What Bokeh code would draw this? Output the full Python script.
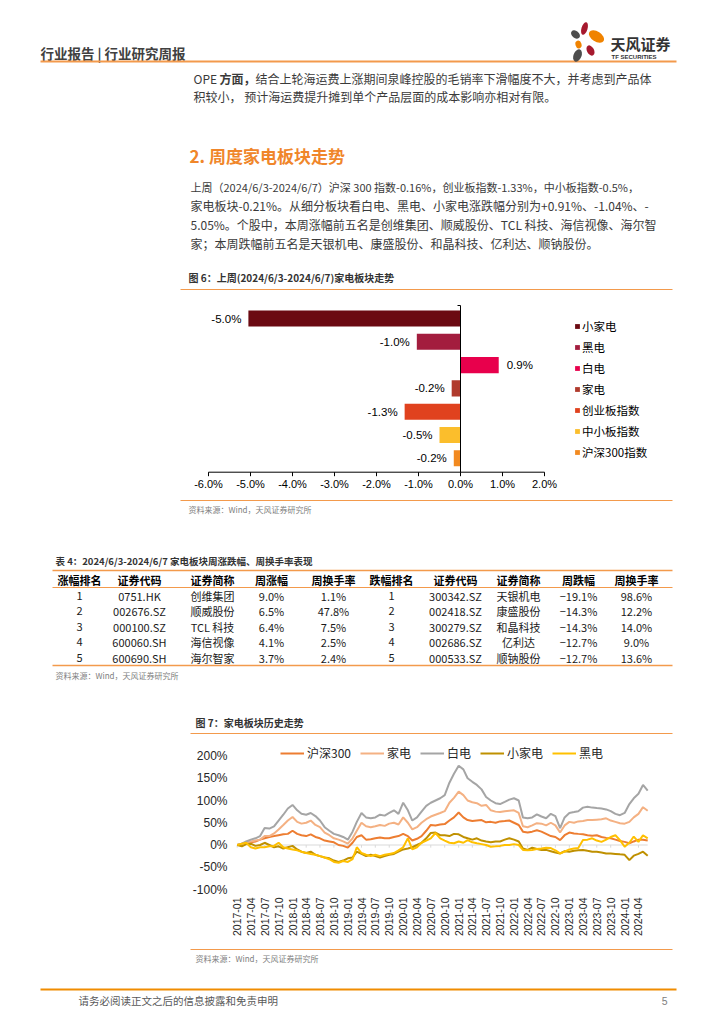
import math
import pandas as pd
from bokeh.plotting import figure
from bokeh.models import (Range1d, FixedTicker, Legend, LegendItem, DatetimeTickFormatter,
                          ColumnDataSource)
from bokeh.layouts import column
from bokeh.core.properties import value
from bokeh.embed import file_html
from bokeh.resources import INLINE

# ---------------- data ----------------
BAR_CATS = ["小家电", "黑电", "白电", "家电", "创业板指数", "中小板指数", "沪深300指数"]
BAR_VALS = [-5.05, -1.04, 0.91, -0.21, -1.33, -0.50, -0.16]
BAR_COLORS = ["#6B0A12", "#A31D3E", "#E8004C", "#B03A2C", "#E0421E", "#FBBE2C", "#F28A20"]
BAR_TICKS = [-6, -5, -4, -3, -2, -1, 0, 1, 2]

TBL_HEAD = ["涨幅排名", "证券代码", "证券简称", "周涨幅", "周换手率",
            "跌幅排名", "证券代码", "证券简称", "周跌幅", "周换手率"]
UP_RANK = ["1", "2", "3", "4", "5"]
UP_CODE = ["0751.HK", "002676.SZ", "000100.SZ", "600060.SH", "600690.SH"]
UP_NAME = ["创维集团", "顺威股份", "TCL 科技", "海信视像", "海尔智家"]
UP_CHG = ["9.0%", "6.5%", "6.4%", "4.1%", "3.7%"]
UP_TURN = ["1.1%", "47.8%", "7.5%", "2.5%", "2.4%"]
DN_RANK = ["1", "2", "3", "4", "5"]
DN_CODE = ["300342.SZ", "002418.SZ", "300279.SZ", "002686.SZ", "000533.SZ"]
DN_NAME = ["天银机电", "康盛股份", "和晶科技", "亿利达", "顺钠股份"]
DN_CHG = ["−19.1%", "−14.3%", "−14.3%", "−12.7%", "−12.7%"]
DN_TURN = ["98.6%", "12.2%", "14.0%", "9.0%", "13.6%"]

MONTHS = pd.date_range("2017-01-01", periods=90, freq="MS")
QUARTER_TICKS = pd.date_range("2017-01-01", "2024-04-01", freq="QS")
Y_TICKS = [-100, -50, 0, 50, 100, 150, 200]

HS300 = [0, 3, 5, 6, 8, 12, 15, 18, 20, 22, 24, 25, 32, 25, 22, 20, 24, 18, 15, 10,
         8, 6, 0, -2, -6, 5, 18, 22, 12, 13, 15, 17, 15, 15, 18, 20, 25, 20, 10, 14,
         20, 32, 45, 44, 46, 47, 55, 62, 73, 62, 56, 54, 55, 56, 51, 52, 50, 53, 54, 55,
         50, 45, 30, 28, 30, 33, 30, 25, 20, 18, 11, 22, 28, 26, 25, 24, 22, 21, 22, 18,
         16, 15, 12, 9, 7, 4, 8, 12, 12, 10]
JIADIAN = [0, 2, 5, 8, 10, 12, 20, 20, 26, 35, 45, 55, 63, 52, 48, 50, 55, 45, 40, 28,
           22, 15, 12, 8, 3, 15, 32, 50, 42, 40, 42, 45, 43, 48, 50, 46, 62, 50, 35, 40,
           50, 58, 64, 68, 72, 76, 95, 106, 120, 112, 100, 96, 94, 88, 90, 78, 75, 74, 76, 77,
           78, 72, 42, 40, 44, 49, 48, 44, 50, 44, 28, 44, 52, 50, 53, 54, 56, 56, 57, 58,
           60, 55, 52, 49, 48, 52, 62, 70, 85, 77]
BAIDIAN = [0, 3, 8, 12, 15, 20, 38, 37, 42, 55, 68, 82, 90, 78, 70, 68, 72, 65, 55, 40,
           32, 25, 22, 18, 12, 30, 52, 72, 62, 60, 62, 68, 66, 72, 78, 70, 95, 78, 55, 62,
           75, 88, 95, 100, 105, 112, 140, 160, 178, 170, 150, 142, 135, 125, 108, 100, 94, 92, 97, 102,
           105, 100, 62, 60, 62, 69, 64, 60, 70, 65, 38, 62, 72, 74, 76, 84, 86, 84, 83, 82,
           80, 76, 70, 67, 72, 92, 105, 115, 135, 122]
XIAOJIADIAN = [0, -3, 2, 3, -2, 0, 5, 0, -5, -3, -8, -5, -2, -10, -15, -18, -15, -22, -25, -28,
               -30, -35, -38, -35, -30, -28, -15, -20, -25, -22, -25, -28, -25, -22, -20, -15, -10, -8, -5, 0,
               5, 15, 27, 28, 22, 22, 20, 25, 24, 18, 15, 12, 15, 10, 8, 6, 8, 8, 12, 15,
               12, 8, -8, -11, -6, -9, -11, -11, -14, -17, -19, -14, -15, -13, -12, -11, -13, -15, -15, -17,
               -19, -19, -20, -21, -22, -34, -24, -20, -15, -24]
HEIDIAN = [0, 3, 5, -5, -8, -5, -5, -3, -2, 5, -5, -8, -10, -12, -15, -18, -20, -22, -25, -28,
           -32, -38, -40, -36, -38, -32, -5, -18, -22, -25, -22, -25, -22, -20, -18, -12, -5, 15, -10, -5,
           5, 10, 15, 27, 15, 10, 5, 4, 8, 5, 11, 6, 4, 2, 0, -4, -3, -2, 0, 0,
           2, 0, -11, -12, -11, -9, -8, -6, -7, -12, -19, -15, -10, -8, -7, 11, 12, 15, 10, 7,
           12, 18, 22, 11, -4, 5, 19, 7, 22, 15]
SERIES = [("沪深300", HS300, "#ED7D31"), ("家电", JIADIAN, "#F4B183"),
          ("白电", BAIDIAN, "#A5A5A5"), ("小家电", XIAOJIADIAN, "#BF9000"),
          ("黑电", HEIDIAN, "#FFC000")]

# ---------------- style ----------------
W = 716
CJK = "Noto Sans CJK SC"
LAT = "Liberation Sans"
LINE_OR = "#F39A4C"
HEAD_OR = "#F0862A"
TXT = "#3A3A3A"
SRC = "#808080"


def canvas(y0, h):
    p = figure(width=W, height=h, x_range=Range1d(0, W), y_range=Range1d(y0 + h, y0),
               x_axis_type=None, y_axis_type=None, output_backend="svg",
               toolbar_location=None, min_border=0)
    p.outline_line_color = None
    p.grid.visible = False
    return p


def T(p, x, y, s, size, color=TXT, bold=False, align="left", font=CJK, **kw):
    p.text(x=[x], y=[y], text=[s], text_font=value(font), text_font_size=f"{size}px",
           text_color=color, text_font_style="bold" if bold else "normal",
           text_align=align, text_baseline="middle", **kw)


def HL(p, x0, x1, y, color=LINE_OR, w=1, **kw):
    p.segment(x0=[x0], x1=[x1], y0=[y], y1=[y], line_color=color, line_width=w, **kw)


# ---------------- section 1: header and text (page y 0..297) ----------------
s1 = canvas(0, 297)
T(s1, 40, 52, "行业报告 | 行业研究周报", 13.5, "#404040", bold=True)
HL(s1, 40, 676, 61, LINE_OR, 2)
s1.ellipse(x=[584, 575, 596, 578, 590, 577], y=[28, 34, 36, 44, 50, 55],
           width=[6, 7, 10, 6, 7, 8], height=[13, 10, 17, 8, 11, 13],
           angle=[-0.3, 0.9, 1.0, 0.3, 0.5, -0.4],
           fill_color=["#A6192E", "#4D4D4D", "#F08300", "#F08300", "#A6192E", "#4D4D4D"],
           line_color=None)
T(s1, 610, 43, "天风证券", 15, "#333333", bold=True)
T(s1, 611, 56, "TF SECURITIES", 6, "#333333", bold=True, font=LAT)

T(s1, 193, 78, "OPE", 12, TXT)
T(s1, 219, 78, "方面，", 12, TXT, bold=True)
T(s1, 255, 78, "结合上轮海运费上涨期间泉峰控股的毛销率下滑幅度不大，并考虑到产品体", 12, TXT)
T(s1, 193, 96, "积较小， 预计海运费提升摊到单个产品层面的成本影响亦相对有限。", 12, TXT)

T(s1, 189, 155, "2. 周度家电板块走势", 17, HEAD_OR, bold=True)

PARA = [("上周（2024/6/3-2024/6/7）沪深 300 指数-0.16%，创业板指数-1.33%，中小板指数-0.5%，", 11),
        ("家电板块-0.21%。从细分板块看白电、黑电、小家电涨跌幅分别为+0.91%、-1.04%、-", 12),
        ("5.05%。个股中，本周涨幅前五名是创维集团、顺威股份、TCL 科技、海信视像、海尔智", 12),
        ("家；本周跌幅前五名是天银机电、康盛股份、和晶科技、亿利达、顺钠股份。", 12)]
for i, (line, fs) in enumerate(PARA):
    T(s1, 190, 186 + 19 * i, line, fs, TXT)

T(s1, 188, 277, "图 6：上周(2024/6/3-2024/6/7)家电板块走势", 10, "#333333", bold=True)
HL(s1, 180, 672, 289)

# ---------------- section 2: bar chart (page y 297..540) ----------------
S2_TOP, S2_BOT = 297, 540
ZERO_PX, PX_PER_PCT = 460, 42.0          # x: 0% at page x 460, 42 px per 1%
ROW0_PX, ROW_PX = 318, 23.3             # y: first category centre and row pitch
AXIS_PX, AXTOP_PX = 471.7, 305
row = list(range(len(BAR_CATS)))
s2 = figure(width=W, height=S2_BOT - S2_TOP,
            x_range=Range1d((0 - ZERO_PX) / PX_PER_PCT, (W - ZERO_PX) / PX_PER_PCT),
            y_range=Range1d((S2_BOT - ROW0_PX) / ROW_PX, (S2_TOP - ROW0_PX) / ROW_PX),
            x_axis_type=None, y_axis_type=None, output_backend="svg",
            toolbar_location=None, min_border=0)
s2.outline_line_color = None
s2.grid.visible = False
s2.extra_x_ranges = {"page": Range1d(0, W)}
s2.extra_y_ranges = {"page": Range1d(S2_BOT, S2_TOP)}
pg = dict(x_range_name="page", y_range_name="page")

src = ColumnDataSource(dict(row=row, cat=BAR_CATS, val=BAR_VALS, color=BAR_COLORS))
s2.hbar(y="row", left=0, right="val", height=0.69, fill_color="color", line_color=None,
        source=src, legend_field="cat")
ax_y = (AXIS_PX - ROW0_PX) / ROW_PX
top_y = (AXTOP_PX - ROW0_PX) / ROW_PX
tick_len = 4 / ROW_PX
# value axis (bottom) and zero line
s2.segment(x0=[BAR_TICKS[0]], x1=[BAR_TICKS[-1]], y0=[ax_y], y1=[ax_y], line_color="#000000", line_width=1)
s2.segment(x0=BAR_TICKS, x1=BAR_TICKS, y0=[ax_y] * len(BAR_TICKS), y1=[ax_y + tick_len] * len(BAR_TICKS),
           line_color="#000000", line_width=1)
s2.text(x=BAR_TICKS, y=[ax_y] * len(BAR_TICKS), text=[f"{t:.1f}%" for t in BAR_TICKS],
        y_offset=6, text_align="center", text_baseline="top", text_font=value(LAT),
        text_font_size="11px", text_color="#000000")
s2.segment(x0=[0], x1=[0], y0=[top_y], y1=[ax_y], line_color="#000000", line_width=1)
s2.segment(x0=[0], x1=[-3 / PX_PER_PCT], y0=[top_y], y1=[top_y], line_color="#000000", line_width=1)

neg = ColumnDataSource(dict(row=[r for r, v in zip(row, BAR_VALS) if v < 0],
                            val=[v for v in BAR_VALS if v < 0],
                            lab=[f"{v:.1f}%" for v in BAR_VALS if v < 0]))
pos = ColumnDataSource(dict(row=[r for r, v in zip(row, BAR_VALS) if v >= 0],
                            val=[v for v in BAR_VALS if v >= 0],
                            lab=[f"{v:.1f}%" for v in BAR_VALS if v >= 0]))
s2.text(x="val", y="row", text="lab", source=neg, x_offset=-7, text_align="right",
        text_baseline="middle", text_font=value(LAT), text_font_size="11.5px", text_color="#000000")
s2.text(x="val", y="row", text="lab", source=pos, x_offset=8, text_align="left",
        text_baseline="middle", text_font=value(LAT), text_font_size="11.5px", text_color="#000000")
lg = s2.legend[0]
lg.location = (574, 80)
lg.orientation = "vertical"
lg.glyph_width = 6
lg.glyph_height = 6
lg.label_height = 16
lg.label_standoff = 2
lg.spacing = 5
lg.padding = 0
lg.margin = 0
lg.border_line_color = None
lg.background_fill_alpha = 0
lg.label_text_font = CJK
lg.label_text_font_size = "11.5px"
lg.label_text_color = "#000000"

HL(s2, 180, 672, 500, **pg)
T(s2, 188, 509, "资料来源：Wind，天风证券研究所", 8, SRC, **pg)

# ---------------- section 3: table (page y 540..740) ----------------
s3 = canvas(540, 200)
T(s3, 55, 560, "表 4：2024/6/3-2024/6/7 家电板块周涨跌幅、周换手率表现", 9.5, "#333333", bold=True)
HL(s3, 52, 672, 570, LINE_OR, 1.5)
HL(s3, 52, 672, 587, LINE_OR, 1)
HL(s3, 52, 672, 665, LINE_OR, 1.5)
COL_X = [79, 139, 212, 271, 333, 391, 455, 518, 578, 636]
ROW_Y = [595, 610.5, 626, 641.5, 657]
for cx, h in zip(COL_X, TBL_HEAD):
    T(s3, cx, 579, h, 11, "#000000", bold=True, align="center")
COLS = [UP_RANK, UP_CODE, UP_NAME, UP_CHG, UP_TURN, DN_RANK, DN_CODE, DN_NAME, DN_CHG, DN_TURN]
for cx, col in zip(COL_X, COLS):
    for ry, cell in zip(ROW_Y, col):
        T(s3, cx, ry, cell, 11, "#1A1A1A", align="center")
T(s3, 55, 675, "资料来源：Wind，天风证券研究所", 8, SRC)
T(s3, 195, 722, "图 7：家电板块历史走势", 10, "#333333", bold=True)
HL(s3, 190, 672, 733)

# ---------------- section 4: line chart (page y 740..940) ----------------
# full-width frame; 2017-01-01 at page x 236.7, 13.84 px per quarter
PX_PER_DAY = 13.84 / 91.3
ORIGIN = pd.Timestamp("2017-01-01")
X0 = ORIGIN - pd.Timedelta(days=236.7 / PX_PER_DAY)
X1 = ORIGIN + pd.Timedelta(days=(W - 236.7) / PX_PER_DAY)
LABEL_X = ORIGIN - pd.Timedelta(days=(236.7 - 227) / PX_PER_DAY)
PX_PER_PCT4 = 0.445                        # 200% at page y 755.5, -100% at 889
Y_TOP = 200 + (755.5 - 740) / PX_PER_PCT4
Y_BOT = -100 - (895 - 889) / PX_PER_PCT4

s4 = figure(width=W, height=200, x_axis_type="datetime", x_range=Range1d(X0, X1),
            y_range=Range1d(Y_BOT, Y_TOP), y_axis_location=None, output_backend="svg",
            toolbar_location=None, min_border_left=0, min_border_right=0,
            min_border_top=0, min_border_bottom=45)
s4.outline_line_color = None
s4.grid.visible = False
s4.segment(x0=[MONTHS[0]], x1=[MONTHS[-1]], y0=[0], y1=[0], line_color="#D9D9D9", line_width=1)
s4.segment(x0=QUARTER_TICKS, x1=QUARTER_TICKS, y0=[0] * len(QUARTER_TICKS),
           y1=[-6] * len(QUARTER_TICKS), line_color="#D9D9D9", line_width=1)
s4.text(x=[LABEL_X] * len(Y_TICKS), y=Y_TICKS, text=[f"{t}%" for t in Y_TICKS],
        text_align="right", text_baseline="middle", text_font=value(LAT),
        text_font_size="12px", text_color="#262626")
items = []
for name, vals, color in SERIES:
    r = s4.line(MONTHS, vals, line_color=color, line_width=2)
    items.append(LegendItem(label=name, renderers=[r]))
leg = Legend(items=items, orientation="horizontal", location=(280, 134), glyph_width=24,
             glyph_height=16, label_height=16, label_standoff=3, spacing=9, padding=0, margin=0,
             border_line_color=None, background_fill_alpha=0, label_text_font=CJK,
             label_text_font_size="12px", label_text_color="#262626")
s4.add_layout(leg)
xa = s4.xaxis[0]
xa.ticker = FixedTicker(ticks=[int(t.value // 10**6) for t in QUARTER_TICKS])
fmt = "%Y-%m"
xa.formatter = DatetimeTickFormatter(microseconds=fmt, milliseconds=fmt, seconds=fmt, minsec=fmt,
                                     minutes=fmt, hourmin=fmt, hours=fmt, days=fmt, months=fmt, years=fmt)
xa.major_label_orientation = math.pi / 2
xa.axis_line_color = None
xa.major_tick_line_color = None
xa.minor_tick_line_color = None
xa.major_tick_out = 0
xa.major_label_standoff = 2
xa.major_label_text_font = LAT
xa.major_label_text_font_size = "10.5px"
xa.major_label_text_color = "#262626"

# ---------------- section 5: footer (page y 940..1016) ----------------
s5 = canvas(940, 76)
HL(s5, 190, 672, 949)
T(s5, 195, 958, "资料来源：Wind，天风证券研究所", 8, SRC)
HL(s5, 40, 676, 989, "#F08C00", 2)
T(s5, 78, 1000, "请务必阅读正文之后的信息披露和免责申明", 10.5, "#595959")
T(s5, 667, 1000, "5", 10.5, "#808080", align="right", font=LAT)

page = column(s1, s2, s3, s4, s5, spacing=0)
open("out.html", "w").write(file_html(page, INLINE))
